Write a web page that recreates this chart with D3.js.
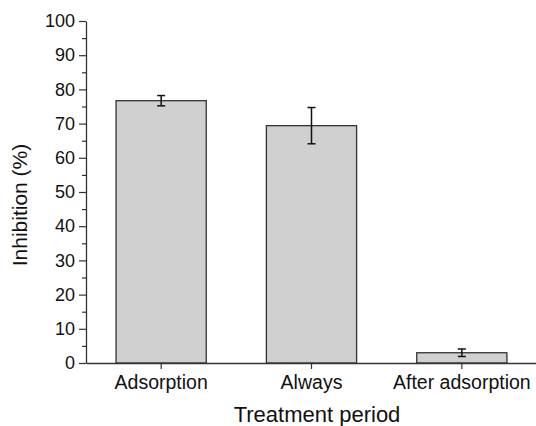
<!DOCTYPE html>
<html>
<head>
<meta charset="utf-8">
<script src="https://cdn.jsdelivr.net/npm/d3@7"></script>
<style>
  body { margin: 0; background: #fff; }
  text { font-family: "Liberation Sans", Arial, sans-serif; fill: #111; }
</style>
</head>
<body>
<div id="chart"></div>
<script>
// data
const categories = ['Adsorption', 'Always', 'After adsorption'];
const inhibition = [76.7, 69.4, 3.0];
const errors = [1.5, 5.3, 1.1];
const yTicks = [0, 10, 20, 30, 40, 50, 60, 70, 80, 90, 100];
const yMinorTicks = [5, 15, 25, 35, 45, 55, 65, 75, 85, 95];

const width = 536;
const height = 426;
const mLeft = 86, mTop = 21, mBottom = 363, mRight = 537;

const svg = d3.select('#chart')
    .append('svg')
    .attr('width', width)
    .attr('height', height);

const xScale = d3.scaleBand()
    .domain(categories)
    .range([mLeft, mRight])
    .paddingInner(0.4)
    .paddingOuter(0.2);

const yScale = d3.scaleLinear()
    .domain([0, 100])
    .range([mBottom, mTop]);

// bars
svg.selectAll('.bar')
    .data(categories)
    .enter()
    .append('rect')
    .classed('bar', true)
    .attr('x', d => xScale(d))
    .attr('y', (d, i) => yScale(inhibition[i]))
    .attr('width', xScale.bandwidth())
    .attr('height', (d, i) => mBottom - yScale(inhibition[i]))
    .style('fill', '#d0d0d0')
    .style('stroke', '#333')
    .style('stroke-width', 1.3);

// error bars
const errG = svg.append('g');
categories.forEach((c, i) => {
    const cx = xScale(c) + xScale.bandwidth() / 2;
    const hi = yScale(inhibition[i] + errors[i]);
    const lo = yScale(inhibition[i] - errors[i]);
    errG.append('line')
        .attr('x1', cx).attr('x2', cx)
        .attr('y1', hi).attr('y2', lo)
        .style('stroke', '#111').style('stroke-width', 1.5);
    [hi, lo].forEach(y => {
        errG.append('line')
            .attr('x1', cx - 4).attr('x2', cx + 4)
            .attr('y1', y).attr('y2', y)
            .style('stroke', '#111').style('stroke-width', 1.5);
    });
});

// y axis
const yAxis = svg.append('g')
    .attr('transform', `translate(${mLeft},0)`)
    .call(d3.axisLeft(yScale).tickValues(yTicks).tickSize(7).tickPadding(4).tickSizeOuter(0));
yAxis.selectAll('line').style('stroke', '#333').style('stroke-width', 1.2);
yAxis.select('.domain').style('stroke', '#333').style('stroke-width', 1.3);
yAxis.selectAll('text')
    .style('font-family', '"Liberation Sans", Arial, sans-serif')
    .style('font-size', '18px')
    .style('fill', '#111');

const yMinor = svg.append('g')
    .attr('transform', `translate(${mLeft},0)`)
    .call(d3.axisLeft(yScale).tickValues(yMinorTicks).tickSize(4).tickFormat(''));
yMinor.select('.domain').remove();
yMinor.selectAll('line').style('stroke', '#333').style('stroke-width', 1.2);

// x axis
const xAxis = svg.append('g')
    .attr('transform', `translate(0,${mBottom})`)
    .call(d3.axisBottom(xScale).tickSize(6).tickPadding(6).tickSizeOuter(0));
xAxis.selectAll('line').style('stroke', '#333').style('stroke-width', 1.2);
xAxis.select('.domain').style('stroke', '#333').style('stroke-width', 1.3);
xAxis.selectAll('text')
    .style('font-family', '"Liberation Sans", Arial, sans-serif')
    .style('font-size', '19.5px')
    .style('fill', '#111');

// axis titles
svg.append('text')
    .attr('x', 317)
    .attr('y', 422)
    .attr('text-anchor', 'middle')
    .style('font-size', '22px')
    .text('Treatment period');

svg.append('text')
    .attr('transform', 'translate(27,205) rotate(-90)')
    .attr('text-anchor', 'middle')
    .style('font-size', '21px')
    .text('Inhibition (%)');
</script>
</body>
</html>
